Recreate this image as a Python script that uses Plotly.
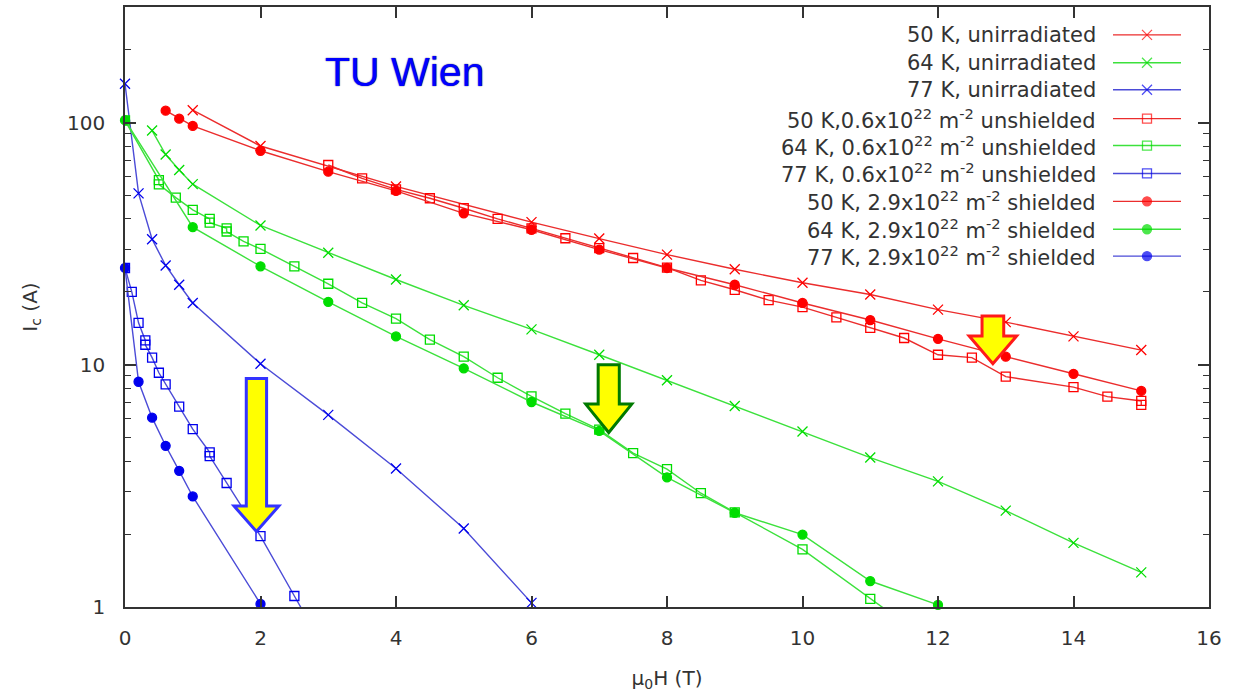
import math
import plotly.graph_objects as go

# ---- critical current Ic (A) versus applied field mu0H (T) ----
# unirradiated
x50_unirr = [1, 2, 4, 6, 7, 8, 9, 10, 11, 12, 13, 14, 15]
y50_unirr = [112.5, 80, 54.5, 38.8, 33.2, 28.5, 24.8, 21.8, 19.5, 16.9, 15.0, 13.1, 11.5]

x64_unirr = [0.4, 0.6, 0.8, 1, 2, 3, 4, 5, 6, 7, 8, 9, 10, 11, 12, 13, 14, 15]
y64_unirr = [92.7, 73.8, 63.7, 55.7, 37.6, 29.0, 22.5, 17.6, 14.0, 11.0, 8.63, 6.76, 5.30,
             4.14, 3.30, 2.50, 1.84, 1.39]

x77_unirr = [0, 0.2, 0.4, 0.6, 0.8, 1, 2, 3, 4, 5, 6]
y77_unirr = [144.6, 51.0, 33.0, 25.7, 21.4, 18.0, 10.1, 6.21, 3.73, 2.11, 1.04]

# 0.6x10^22 m^-2, unshielded
x50_unsh = [3, 3.5, 4, 4.5, 5, 5.5, 6, 6.5, 7, 7.5, 8, 8.5, 9, 9.5, 10, 10.5, 11, 11.5,
            12, 12.5, 13, 14, 14.5, 15, 15]
y50_unsh = [66.8, 58.8, 53.0, 48.7, 44.3, 40.0, 36.6, 33.3, 30.3, 27.6, 25.2, 22.3, 20.4,
            18.5, 17.3, 15.7, 14.2, 12.9, 11.0, 10.7, 8.93, 8.09, 7.39, 7.09, 6.83]

x64_unsh = [0, 0.5, 0.5, 0.75, 1, 1.25, 1.25, 1.5, 1.5, 1.75, 2, 2.5, 3, 3.5, 4, 4.5, 5,
            5.5, 6, 6.5, 7, 7.5, 8, 8.5, 9, 10, 11, 12]
y64_unsh = [102, 57.9, 55.6, 49.0, 43.6, 40.0, 38.6, 36.6, 35.5, 32.3, 30.1, 25.5, 21.6,
            18.0, 15.5, 12.7, 10.8, 8.84, 7.41, 6.28, 5.4, 4.32, 3.71, 2.95, 2.46, 1.73,
            1.08, 0.68]

x77_unsh = [0, 0.1, 0.2, 0.3, 0.3, 0.4, 0.5, 0.6, 0.8, 1, 1.25, 1.25, 1.5, 2, 2.5, 3]
y77_unsh = [25.1, 20.0, 14.9, 12.6, 12.1, 10.7, 9.27, 8.3, 6.72, 5.42, 4.35, 4.2, 3.25,
            1.96, 1.11, 0.63]

# 2.9x10^22 m^-2, shielded
x50_sh = [0.6, 0.8, 1, 2, 3, 4, 5, 6, 7, 8, 9, 10, 11, 12, 13, 14, 15]
y50_sh = [112, 103.8, 96.9, 76.5, 62.7, 52.2, 42.2, 36.1, 29.9, 25.1, 21.4, 18.0, 15.3,
          12.8, 10.8, 9.18, 7.8]

x64_sh = [0, 1, 2, 3, 4, 5, 6, 7, 8, 9, 10, 11, 12]
y64_sh = [102.3, 37.0, 25.5, 18.2, 13.1, 9.67, 7.02, 5.33, 3.43, 2.45, 1.99, 1.28, 1.02]

x77_sh = [0, 0.2, 0.4, 0.6, 0.8, 1, 2]
y77_sh = [25.1, 8.51, 6.05, 4.63, 3.65, 2.86, 1.03]

x_ticks = [0, 2, 4, 6, 8, 10, 12, 14, 16]
y_ticks = [1, 10, 100]
y_minor = [2, 3, 4, 5, 6, 7, 8, 9, 20, 30, 40, 50, 60, 70, 80, 90, 200]

X_MAX = 16
Y_MAX = 300

FONT = "DejaVu Sans"
AXIS_COLOR = "#333333"

LINE = {"red": "rgb(235,45,45)", "green": "rgb(60,225,60)", "blue": "rgb(75,75,215)"}
MARK = {"red": "#ff0000", "green": "#00dd00", "blue": "#0000ee"}

SYMBOL = {"x": ("x-thin-open", 10), "sq": ("square-open", 9), "dot": ("circle", 9)}

series = [
    ("50 K, unirradiated", x50_unirr, y50_unirr, "red", "x", False),
    ("64 K, unirradiated", x64_unirr, y64_unirr, "green", "x", False),
    ("77 K, unirradiated", x77_unirr, y77_unirr, "blue", "x", False),
    ("50 K,0.6x10<sup>22</sup> m<sup>-2</sup> unshielded", x50_unsh, y50_unsh, "red", "sq", False),
    ("64 K, 0.6x10<sup>22</sup> m<sup>-2</sup> unshielded", x64_unsh, y64_unsh, "green", "sq", True),
    ("77 K, 0.6x10<sup>22</sup> m<sup>-2</sup> unshielded", x77_unsh, y77_unsh, "blue", "sq", True),
    ("50 K, 2.9x10<sup>22</sup> m<sup>-2</sup> shielded", x50_sh, y50_sh, "red", "dot", False),
    ("64 K, 2.9x10<sup>22</sup> m<sup>-2</sup> shielded", x64_sh, y64_sh, "green", "dot", False),
    ("77 K, 2.9x10<sup>22</sup> m<sup>-2</sup> shielded", x77_sh, y77_sh, "blue", "dot", False),
]

W, H = 1251, 693
ML, MR, MT, MB = 125, 42, 5, 86
PW, PH = W - ML - MR, H - MT - MB


def px_to_paper_x(px):
    return (px - ML) / PW


def px_to_paper_y(py):
    return (H - MB - py) / PH


def data_to_paper(x, y):
    return x / X_MAX, math.log10(y) / math.log10(Y_MAX)


fig = go.Figure()

for name, xs, ys, col, mk, clip in series:
    sym, size = SYMBOL[mk]
    fig.add_trace(go.Scatter(
        x=xs, y=ys, mode="lines+markers", name=name, showlegend=False,
        cliponaxis=clip,
        line=dict(color=LINE[col], width=1.4),
        marker=dict(symbol=sym, size=size, color=MARK[col],
                    line=dict(color=MARK[col], width=1.3)),
    ))

# hand-built key: right-aligned labels with line samples to their right
key_rows = [33, 61, 88, 117, 144, 172, 200, 228, 255]
key_text_right = 1098
key_line = (1113, 1181)
annotations = []
for (name, xs, ys, col, mk, clip), row in zip(series, key_rows):
    annotations.append(dict(
        text=name, xref="paper", yref="paper",
        x=px_to_paper_x(key_text_right), y=px_to_paper_y(row),
        xanchor="right", yanchor="middle", showarrow=False,
        font=dict(family=FONT, size=21, color="#333333"),
    ))
    sym, size = SYMBOL[mk]
    x0, x1 = px_to_paper_x(key_line[0]), px_to_paper_x(key_line[1])
    yy = px_to_paper_y(row)
    fig.add_trace(go.Scatter(
        x=[x0, (x0 + x1) / 2, x1], y=[yy, yy, yy], xaxis="x2", yaxis="y2",
        mode="lines+markers", showlegend=False, hoverinfo="skip",
        line=dict(color=LINE[col], width=1.4),
        marker=dict(symbol=sym, size=[0, size, 0], color=MARK[col],
                    line=dict(color=MARK[col], width=1.3)),
    ))

annotations.append(dict(
    text="TU Wien", xref="paper", yref="paper",
    x=px_to_paper_x(404), y=px_to_paper_y(70), xanchor="center", yanchor="middle",
    showarrow=False,
    font=dict(family="Liberation Sans", size=41, color="#0000ff",
              shadow="0 0 1.2px #000033"),
))

# highlight arrows (centre field, tip/head/top currents, half widths in T)
arrows = [
    dict(x=1.94, tip=2.05, head=2.61, top=8.78, body=0.15, half=0.33, edge="#3333ff"),
    dict(x=7.14, tip=5.25, head=6.88, top=10.0, body=0.156, half=0.34, edge="#007a00"),
    dict(x=12.81, tip=10.1, head=13.15, top=15.9, body=0.16, half=0.35, edge="#ff1a1a"),
]
shapes = []
for a in arrows:
    pts = [
        (a["x"] - a["body"], a["top"]), (a["x"] + a["body"], a["top"]),
        (a["x"] + a["body"], a["head"]), (a["x"] + a["half"], a["head"]),
        (a["x"], a["tip"]), (a["x"] - a["half"], a["head"]),
        (a["x"] - a["body"], a["head"]),
    ]
    pp = [data_to_paper(px, py) for px, py in pts]
    path = "M " + " L ".join(f"{u:.5f},{v:.5f}" for u, v in pp) + " Z"
    shapes.append(dict(type="path", path=path, xref="paper", yref="paper",
                       fillcolor="#ffff00", line=dict(color=a["edge"], width=3),
                       layer="above"))

axis_font = dict(family=FONT, size=20, color="#333333")

fig.update_layout(
    width=W, height=H,
    margin=dict(l=ML, r=MR, t=MT, b=MB),
    paper_bgcolor="white", plot_bgcolor="white",
    showlegend=False,
    annotations=annotations,
    shapes=shapes,
    xaxis=dict(
        range=[0, X_MAX], tickvals=x_ticks, ticktext=[str(v) for v in x_ticks],
        ticks="inside", ticklen=11, tickwidth=1.5, tickcolor=AXIS_COLOR,
        showline=True, linecolor=AXIS_COLOR, linewidth=1.5, mirror="ticks",
        showgrid=False, zeroline=False, tickfont=axis_font, ticklabelstandoff=12,
        title=dict(text="μ<sub>0</sub>H (T)", font=axis_font, standoff=22),
    ),
    yaxis=dict(
        type="log", range=[0, math.log10(Y_MAX)],
        tickvals=y_ticks, ticktext=[str(v) for v in y_ticks],
        ticks="inside", ticklen=11, tickwidth=1.5, tickcolor=AXIS_COLOR,
        minor=dict(tickvals=y_minor, ticks="inside", ticklen=6, tickwidth=1.3,
                   tickcolor=AXIS_COLOR, showgrid=False),
        showline=True, linecolor=AXIS_COLOR, linewidth=1.5, mirror="ticks",
        showgrid=False, zeroline=False, tickfont=axis_font, ticklabelstandoff=14,
        title=dict(text="I<sub>c</sub> (A)", font=axis_font, standoff=24),
    ),
    xaxis2=dict(overlaying="x", range=[0, 1], visible=False, fixedrange=True),
    yaxis2=dict(overlaying="y", range=[0, 1], visible=False, fixedrange=True),
)

fig.write_html("out.html")
